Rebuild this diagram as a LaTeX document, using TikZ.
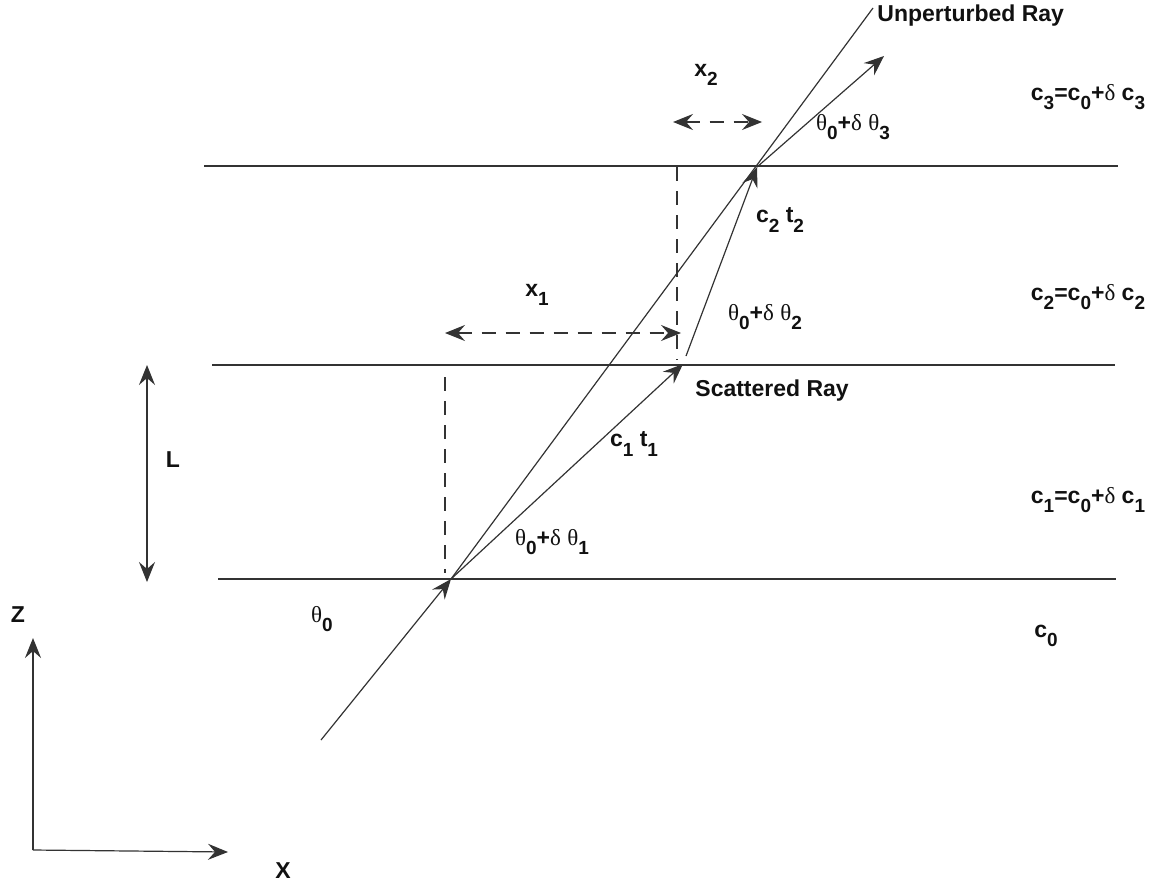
\documentclass[tikz,border=0pt]{standalone}
\usepackage{fontspec}
\setsansfont{Liberation Sans}
\newfontfamily\grk{Liberation Serif}
\usetikzlibrary{arrows.meta}
\definecolor{rayink}{HTML}{333333}
\definecolor{lblink}{HTML}{111111}
\newcommand{\dn}[1]{\raisebox{-0.42em}{\fontsize{9.5}{10}\selectfont #1}}
\newcommand{\gk}[1]{{\grk\mdseries #1}}
\tikzset{
  tip/.style={-{Stealth[length=10pt,width=8pt,inset=3.5pt]}},
  tips/.style={{Stealth[length=10pt,width=8pt,inset=3.5pt]}-{Stealth[length=10pt,width=8pt,inset=3.5pt]}},
  ray/.style={draw=rayink,line width=.6pt},
  iface/.style={draw=rayink,line width=.7pt},
  guide/.style={draw=rayink,line width=.6pt,dash pattern=on 7pt off 5pt},
  lbl/.style={font=\sffamily\bfseries\fontsize{11.5}{13}\selectfont,text=lblink,inner sep=0pt},
}
\begin{document}
\begin{tikzpicture}[x=0.5pt,y=-0.5pt]
  \useasboundingbox (0,0) rectangle (1154,888);

  % layer interfaces
  \coordinate (i3l) at (204,166);  \coordinate (i3r) at (1118,166);
  \coordinate (i2l) at (212,365);  \coordinate (i2r) at (1115,365);
  \coordinate (i1l) at (218,579);  \coordinate (i1r) at (1116,579);
  \draw[iface] (i3l) -- (i3r);
  \draw[iface] (i2l) -- (i2r);
  \draw[iface] (i1l) -- (i1r);

  % rays
  \coordinate (src) at (321,740);
  \coordinate (p0) at (451,579);
  \coordinate (p1) at (683,364);
  \coordinate (p1b) at (686,356);
  \coordinate (p2) at (757,167);
  \coordinate (p3) at (884,56);
  \coordinate (unp) at (873,8);
  \draw[ray,tip] (src) -- (p0);
  \draw[ray] (p0) -- (unp);
  \draw[ray,tip] (p0) -- (p1);
  \draw[ray,tip] (p1b) -- (p2);
  \draw[ray,tip] (p2) -- (p3);

  % offsets
  \coordinate (v2a) at (677,167);  \coordinate (v2b) at (677,360);
  \coordinate (v1a) at (445,377);  \coordinate (v1b) at (445,573);
  \draw[guide] (v2a) -- (v2b);
  \draw[guide] (v1a) -- (v1b);
  \coordinate (x1a) at (445,333);  \coordinate (x1b) at (681,333);
  \coordinate (x2a) at (673,122);  \coordinate (x2b) at (762,122);
  \draw[guide,tips] (x1a) -- (x1b);
  \draw[guide,tips] (x2a) -- (x2b);

  % thickness
  \coordinate (La) at (147,365);  \coordinate (Lb) at (147,582);
  \draw[ray,tips] (La) -- (Lb);

  % axes
  \coordinate (org) at (33,850);
  \coordinate (zax) at (33,638);
  \coordinate (xax) at (228,852);
  \draw[ray,tip] (org) -- (zax);
  \draw[ray,tip] (org) -- (xax);

  \node[lbl,anchor=west] (nunp) at (877,16) {Unperturbed Ray};
  \node[lbl,anchor=west] (nsca) at (695,391) {Scattered Ray};
  \node[lbl] (nx2) at (706,75) {x\dn{2}};
  \node[lbl] (nx1) at (537,295) {x\dn{1}};
  \node[lbl] (nL) at (173,460) {L};
  \node[lbl] (nZ) at (18,615) {Z};
  \node[lbl] (nX) at (283,871) {X};
  \node[lbl] (nc3) at (1088,97) {c\dn{3}=c\dn{0}+\gk{δ} c\dn{3}};
  \node[lbl] (nc2) at (1088,297) {c\dn{2}=c\dn{0}+\gk{δ} c\dn{2}};
  \node[lbl] (nc1) at (1088,500) {c\dn{1}=c\dn{0}+\gk{δ} c\dn{1}};
  \node[lbl] (nc0) at (1046,636) {c\dn{0}};
  \node[lbl] (nth3) at (853,127) {\gk{θ}\dn{0}+\gk{δ} \gk{θ}\dn{3}};
  \node[lbl] (nth2) at (765,317) {\gk{θ}\dn{0}+\gk{δ} \gk{θ}\dn{2}};
  \node[lbl] (nth1) at (552,542) {\gk{θ}\dn{0}+\gk{δ} \gk{θ}\dn{1}};
  \node[lbl] (nth0) at (322,619) {\gk{θ}\dn{0}};
  \node[lbl] (nct2) at (780,220) {c\dn{2} t\dn{2}};
  \node[lbl] (nct1) at (634,444) {c\dn{1} t\dn{1}};
\end{tikzpicture}
\end{document}
